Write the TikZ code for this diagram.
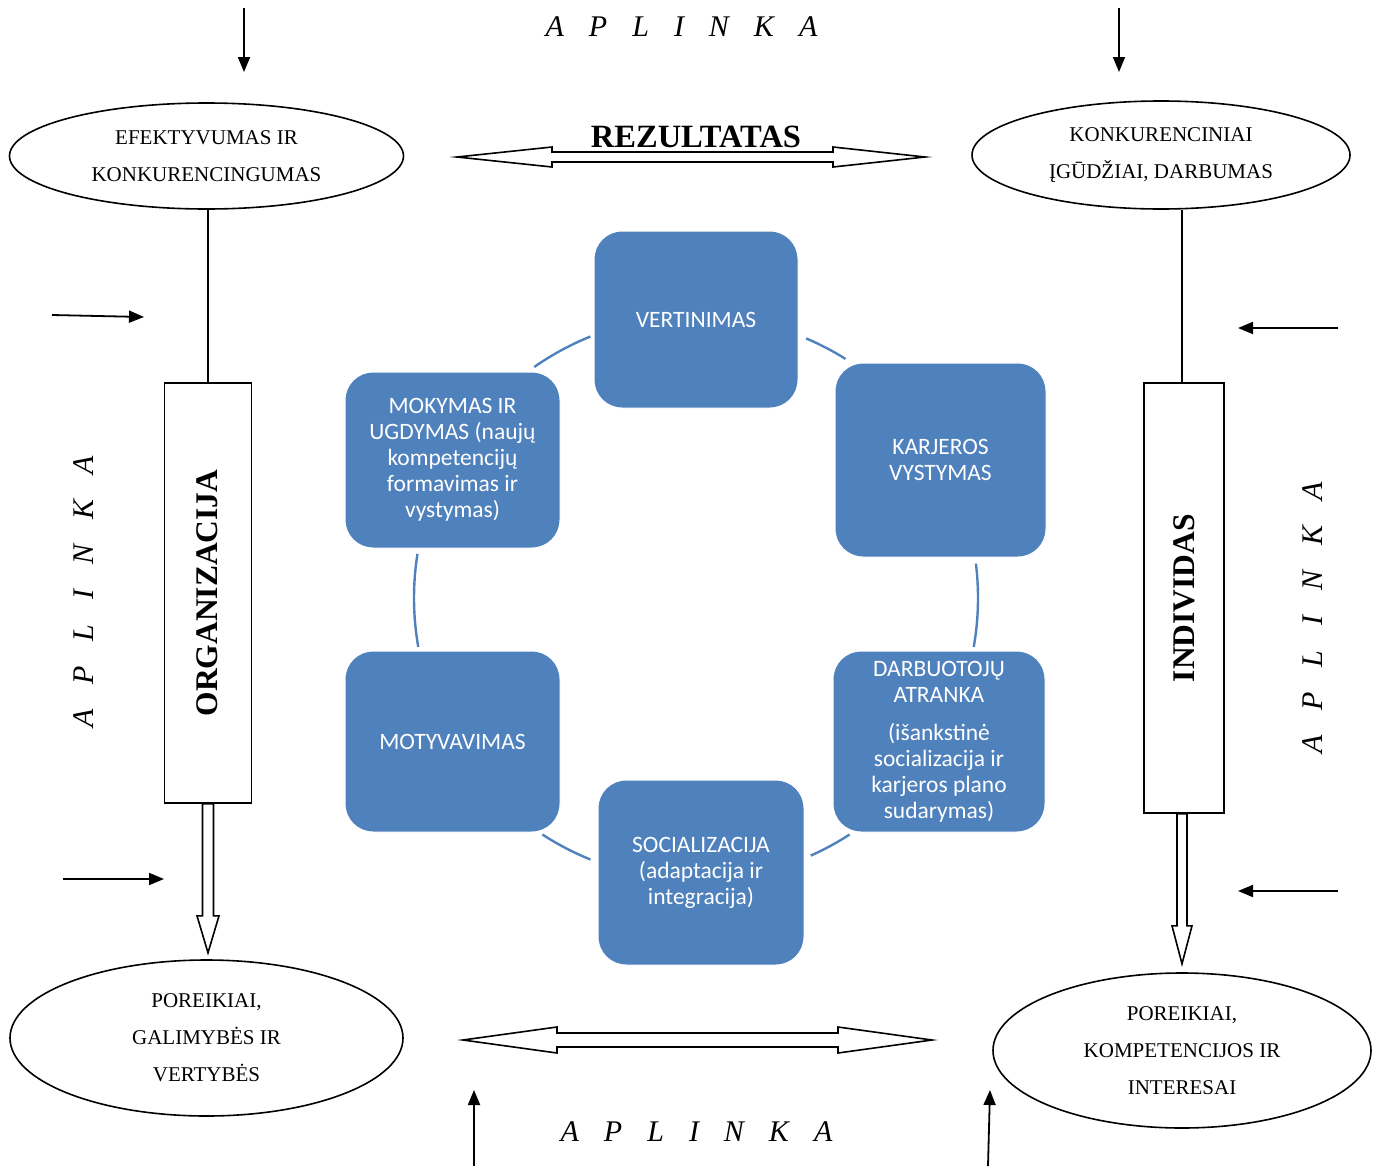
\documentclass[tikz,border=0pt]{standalone}
\usepackage{fontspec}
\setmainfont{Liberation Serif}
\newfontfamily\boxfont{Carlito}
\usetikzlibrary{arrows.meta,shapes.geometric,calc}
\definecolor{smartblue}{HTML}{4F81BD}
\newcommand\aplinkaword{A\hspace{25pt}P\hspace{25pt}L\hspace{25pt}I\hspace{25pt}N\hspace{25pt}K\hspace{25pt}A}
\begin{document}
\begin{tikzpicture}[x=1pt,y=-1pt,
  cbox/.style={draw=white, line width=1pt, fill=smartblue, rounded corners=28pt, text=white, align=center,
    font=\boxfont\fontsize{23.5}{26}\selectfont, inner sep=0pt},
  oval/.style={draw, ellipse, line width=1.6pt, align=center, font=\fontsize{21}{37}\selectfont, inner sep=0pt},
  tallbox/.style={draw, line width=1.6pt, inner sep=0pt},
  bigword/.style={font=\bfseries\fontsize{31.5}{34}\selectfont, inner sep=0pt},
  envword/.style={font=\itshape\fontsize{30}{30}\selectfont, inner sep=0pt, anchor=base},
  thickline/.style={line width=1.8pt},
  smallarrow/.style={-{Triangle[length=15pt,width=12pt]}, line width=1.8pt},
  arcline/.style={smartblue, line width=2.4pt},
  hollow/.style={draw, line width=1.6pt, fill=white, line join=miter}
]
\useasboundingbox (0,0) rectangle (1379,1167);

% environment labels
\node[envword] (envtop) at (681.5,36) {\aplinkaword};
\node[envword] (envbot) at (696.5,1141) {\aplinkaword};
\node[envword, rotate=90] (envleft) at (93,592) {\aplinkaword};
\node[envword, rotate=90] (envright) at (1322,618) {\aplinkaword};

% ellipses
\node[oval, minimum width=394pt, minimum height=106pt] (e1) at (206.5,156) {EFEKTYVUMAS IR\\KONKURENCINGUMAS};
\node[oval, minimum width=378pt, minimum height=108pt] (e2) at (1161,155) {KONKURENCINIAI\\ĮGŪDŽIAI, DARBUMAS};
\node[oval, minimum width=393pt, minimum height=156pt] (e3) at (206.5,1038) {POREIKIAI,\\GALIMYBĖS IR\\VERTYBĖS};
\node[oval, minimum width=378pt, minimum height=155pt] (e4) at (1182,1050.5) {POREIKIAI,\\KOMPETENCIJOS IR\\INTERESAI};

% tall boxes
\node[tallbox, minimum width=87pt, minimum height=420pt] (org) at (208,593) {};
\node[bigword, rotate=90] (orgtext) at (207,593) {ORGANIZACIJA};
\node[tallbox, minimum width=80pt, minimum height=430pt] (ind) at (1184,598) {};
\node[bigword, rotate=90] (indtext) at (1184,598) {INDIVIDAS};

% lines to ellipses
\draw[thickline] (org.north) -- (org.north |- e1.south);
\coordinate (indtop) at ($(ind.north)+(-2,0)$);
\draw[thickline] (indtop) -- (indtop |- e2.south);

% hollow arrows down
\draw[hollow] ($(org.south)+(-5.5,0)$) -- ++(0,112) -- ++(-5.5,0) -- ++(11,37) -- ++(11,-37) -- ++(-5.5,0) -- ++(0,-112) -- cycle;
\coordinate (indbot) at ($(ind.south)+(-2,0)$);
\draw[hollow] ($(indbot)+(-5,0)$) -- ++(0,112) -- ++(-5,0) -- ++(10,38) -- ++(10,-38) -- ++(-5,0) -- ++(0,-112) -- cycle;

% REZULTATAS and double arrows
\node[bigword, anchor=base, font=\bfseries\fontsize{32.5}{34}\selectfont] (rez) at (696,147) {REZULTATAS};
\draw[hollow] (457,157) -- (552,147) -- (552,152) -- (833,152) -- (833,147) -- (925,157)
  -- (833,167) -- (833,162) -- (552,162) -- (552,167) -- cycle;
\draw[hollow] (463,1040) -- (557,1027) -- (557,1033) -- (838,1033) -- (838,1027) -- (932,1040)
  -- (838,1053) -- (838,1047) -- (557,1047) -- (557,1053) -- cycle;

% small environment arrows
\coordinate (s1a) at (244,8);    \coordinate (s1b) at (244,72);
\coordinate (s2a) at (1119,8);   \coordinate (s2b) at (1119,72);
\coordinate (s3a) at (52,315);   \coordinate (s3b) at (144,317);
\coordinate (s4a) at (63,879);   \coordinate (s4b) at (164,879);
\coordinate (s5a) at (1338,328); \coordinate (s5b) at (1238,328);
\coordinate (s6a) at (1338,891); \coordinate (s6b) at (1238,891);
\coordinate (s7a) at (474,1166); \coordinate (s7b) at (474,1090);
\coordinate (s8a) at (988,1166); \coordinate (s8b) at (990,1090);
\foreach \i in {1,...,8} { \draw[smallarrow] (s\i a) -- (s\i b); }

% cycle boxes
\node[cbox, minimum width=204pt, minimum height=177pt] (vert) at (696,319.5) {VERTINIMAS};
\node[cbox, minimum width=215pt, minimum height=176pt] (mok) at (452.5,460) {MOKYMAS IR\\UGDYMAS (naujų\\kompetencijų\\formavimas ir\\vystymas)};
\node[cbox, minimum width=211pt, minimum height=194pt] (kar) at (940.5,460) {KARJEROS\\VYSTYMAS};
\node[cbox, minimum width=215pt, minimum height=181pt] (mot) at (452.5,741.5) {MOTYVAVIMAS};
\node[cbox, minimum width=212pt, minimum height=181pt] (darb) at (939,741.5) {DARBUOTOJŲ\\ATRANKA\\[12pt](išankstinė\\socializacija ir\\karjeros plano\\sudarymas)};
\node[cbox, minimum width=206pt, minimum height=185pt] (soc) at (701,872.5) {SOCIALIZACIJA\\(adaptacija ir\\integracija)};

% cycle arcs
\coordinate (cc) at (696,598);
\begin{scope}[shift={(cc)}, y=1pt]
  \draw[arcline] (112:282pt) arc[start angle=112, end angle=125, radius=282pt];
  \draw[arcline] (58:282pt) arc[start angle=58, end angle=67, radius=282pt];
  \draw[arcline] (-10:282pt) arc[start angle=-10, end angle=7, radius=282pt];
  \draw[arcline] (171:282pt) arc[start angle=171, end angle=190, radius=282pt];
  \draw[arcline] (237:282pt) arc[start angle=237, end angle=248, radius=282pt];
  \draw[arcline] (-66:282pt) arc[start angle=-66, end angle=-57, radius=282pt];
\end{scope}
\end{tikzpicture}
\end{document}
